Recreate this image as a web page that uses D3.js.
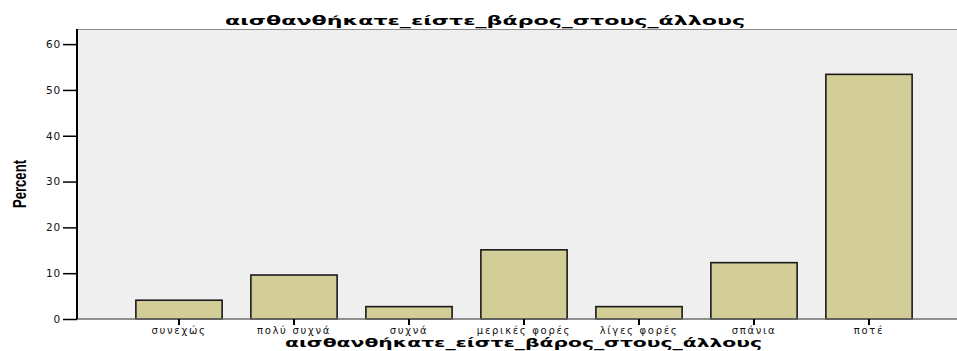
<!DOCTYPE html>
<html>
<head>
<meta charset="utf-8">
<script src="https://cdn.jsdelivr.net/npm/d3@7"></script>
<style>
  html, body { margin: 0; padding: 0; background: #ffffff; }
  svg { display: block; }
</style>
</head>
<body>
<svg id="chart" width="957" height="351"></svg>
<script>
// Response categories and their percentages
const categories = ["συνεχώς", "πολύ συχνά", "συχνά", "μερικές φορές", "λίγες φορές", "σπάνια", "ποτέ"];
const percents = [4.1, 9.6, 2.7, 15.1, 2.7, 12.3, 53.4];
const yTicks = [0, 10, 20, 30, 40, 50, 60];
const chartTitle = "αισθανθήκατε_είστε_βάρος_στους_άλλους";
const xTitle = "αισθανθήκατε_είστε_βάρος_στους_άλλους";
const yTitle = "Percent";

const svg = d3.select("#chart");
const plot = { left: 77, right: 957, top: 29, bottom: 319 };

const x = d3.scaleBand()
  .domain(categories)
  .range([121.5, 926.5])
  .paddingInner(0.25)
  .paddingOuter(0.125);

const y = d3.scaleLinear()
  .domain([0, 63.3])
  .range([plot.bottom, plot.top]);

// plot background
svg.append("rect")
  .attr("x", plot.left).attr("y", plot.top)
  .attr("width", plot.right - plot.left).attr("height", plot.bottom - plot.top)
  .attr("fill", "#efefef");
svg.append("line")
  .attr("x1", plot.left).attr("x2", plot.right)
  .attr("y1", plot.top + 0.5).attr("y2", plot.top + 0.5)
  .attr("stroke", "#8a8a8a").attr("stroke-width", 1);

// bars
svg.append("g").selectAll("rect")
  .data(categories.map((c, i) => ({ c, v: percents[i] })))
  .join("rect")
  .attr("x", d => x(d.c))
  .attr("y", d => y(d.v))
  .attr("width", x.bandwidth())
  .attr("height", d => y(0) - y(d.v))
  .attr("fill", "#d3ce98")
  .attr("stroke", "#1a1a1a")
  .attr("stroke-width", 1.6);

// x baseline
svg.append("line")
  .attr("x1", plot.left).attr("x2", plot.right)
  .attr("y1", plot.bottom).attr("y2", plot.bottom)
  .attr("stroke", "#6e6e6e").attr("stroke-width", 1.5);

// x axis ticks and labels
const xAxis = d3.axisBottom(x).tickSize(6).tickPadding(2);
const gx = svg.append("g").attr("transform", `translate(0,${plot.bottom})`).call(xAxis);
gx.select(".domain").remove();
gx.selectAll(".tick line").attr("stroke", "#000").attr("stroke-width", 2);
gx.selectAll(".tick text")
  .attr("fill", "#111")
  .style("font-family", "'DejaVu Sans', Verdana, sans-serif")
  .style("font-size", "10px")
  .style("letter-spacing", "1.7px");

// y axis
const yAxis = d3.axisLeft(y).tickValues(yTicks).tickSize(14).tickPadding(2);
const gy = svg.append("g").attr("transform", `translate(${plot.left},0)`).call(yAxis);
gy.select(".domain").attr("stroke", "#000").attr("stroke-width", 2)
  .attr("d", `M0,${plot.top}V${plot.bottom}`);
gy.selectAll(".tick line").attr("stroke", "#000").attr("stroke-width", 1.5);
gy.selectAll(".tick text")
  .attr("fill", "#111")
  .style("font-family", "'DejaVu Sans', Verdana, sans-serif")
  .style("font-size", "10.5px")
  .style("letter-spacing", "0.8px");

// titles, stretched to the wide bold face used on the axes
svg.append("text")
  .attr("x", 485).attr("y", 25)
  .attr("text-anchor", "middle")
  .attr("textLength", 520)
  .attr("lengthAdjust", "spacingAndGlyphs")
  .style("font-family", "'DejaVu Sans', Verdana, sans-serif")
  .style("font-weight", "bold")
  .style("font-size", "13px")
  .attr("fill", "#000")
  .text(chartTitle);

svg.append("text")
  .attr("x", 523.5).attr("y", 347)
  .attr("text-anchor", "middle")
  .attr("textLength", 477)
  .attr("lengthAdjust", "spacingAndGlyphs")
  .style("font-family", "'DejaVu Sans', Verdana, sans-serif")
  .style("font-weight", "bold")
  .style("font-size", "12px")
  .attr("fill", "#000")
  .text(xTitle);

svg.append("text")
  .attr("transform", `translate(26,184) rotate(-90)`)
  .attr("text-anchor", "middle")
  .attr("textLength", 48)
  .attr("lengthAdjust", "spacingAndGlyphs")
  .style("font-family", "'Liberation Sans Narrow', 'Liberation Sans', Arial, sans-serif")
  .style("font-weight", "bold")
  .style("font-size", "18px")
  .attr("fill", "#000")
  .text(yTitle);
</script>
</body>
</html>
